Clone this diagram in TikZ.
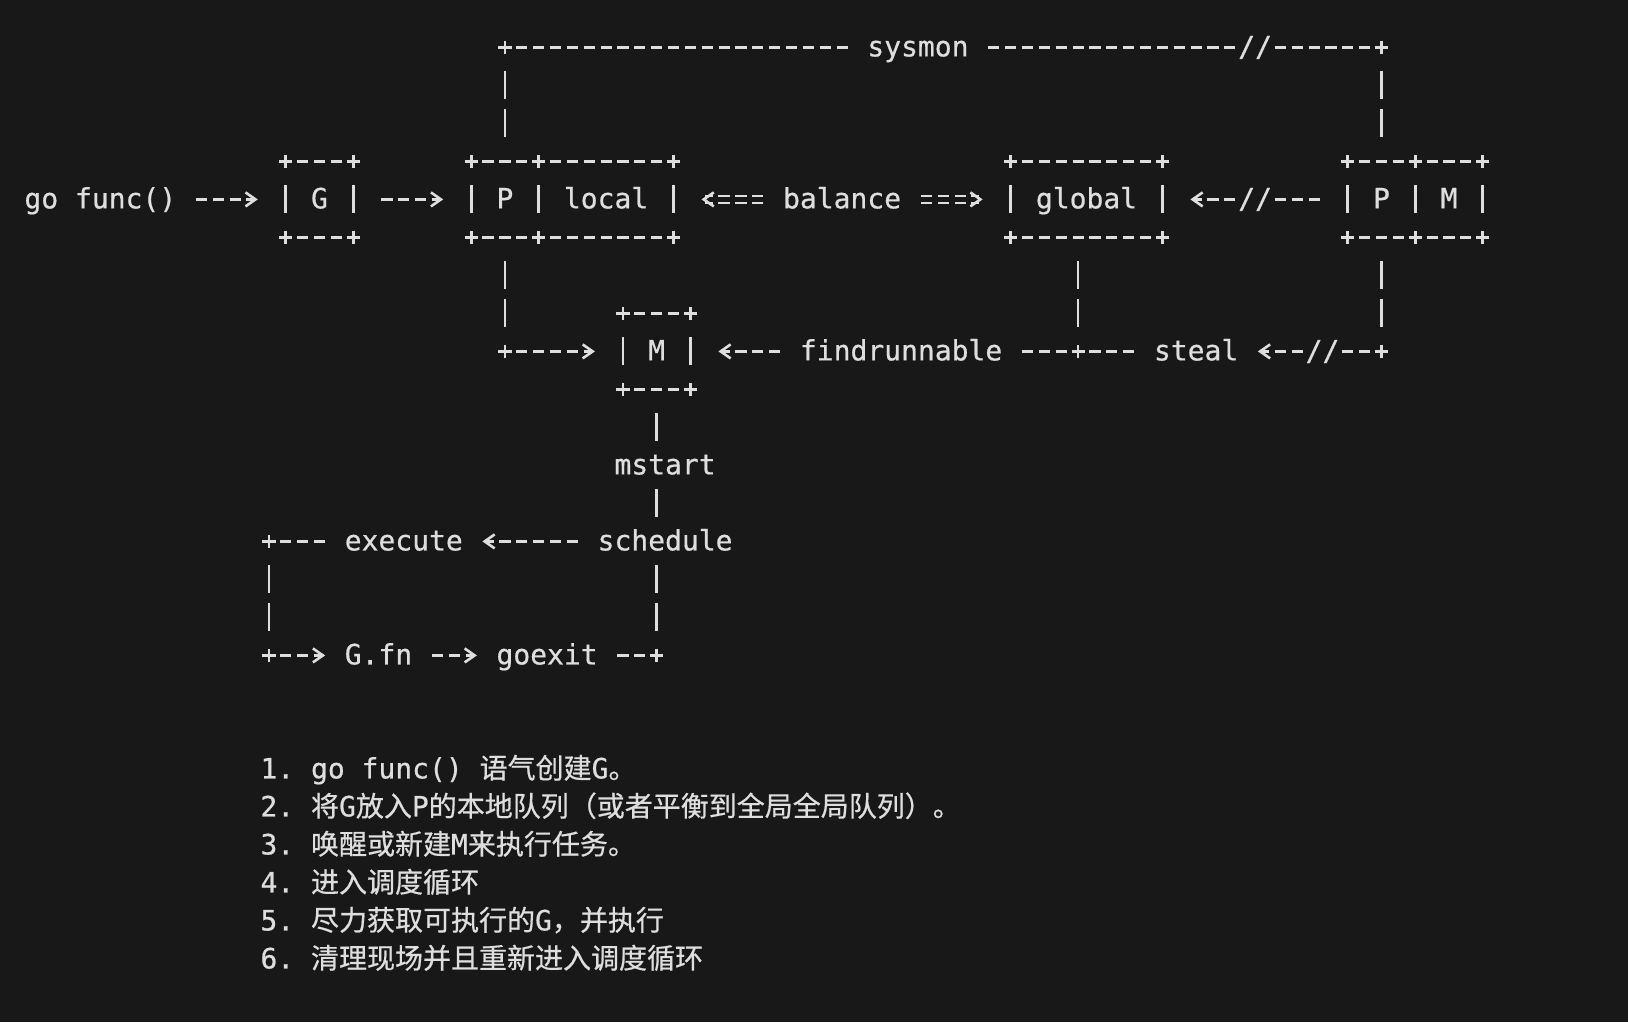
\documentclass[tikz,border=0pt]{standalone}
\usepackage{fontspec}
\usepackage{tikz}
\usetikzlibrary{arrows.meta,fit}

\newfontfamily\asciifont{DejaVu Sans Mono}[FakeBold=0.6]
\newfontfamily\cjkfont{Noto Sans CJK SC}[FakeBold=0.6]
\newcommand{\zh}[1]{{\cjkfont #1}}

\definecolor{termbg}{RGB}{24,24,24}
\definecolor{termfg}{RGB}{222,222,222}

\tikzset{
	txt/.style={font=\asciifont\fontsize{14pt}{19pt}\selectfont, text=termfg, inner sep=0pt, outer sep=0pt, text height=11pt, text depth=2pt, minimum height=19pt},
	joint/.style={inner sep=0pt, outer sep=0pt, minimum width=8.43pt, minimum height=19pt},
	boxframe/.style={inner sep=0pt, outer sep=0pt},
	ink/.style={draw=termfg, line width=1.35pt},
	hline/.style={ink, dash pattern=on 5.6pt off 2.83pt, dash phase=7.01pt},
	vline/.style={ink, dash pattern=on 14pt off 5pt, dash phase=16.5pt},
	dline/.style={hline, line width=1pt, double=termbg, double distance=2.4pt},
	chev/.style={-{Straight Barb[length=5pt, width=7pt, line width=1.3pt]}},
	plusmark/.pic={\draw[ink] (-3.3pt,0) -- (3.3pt,0) (0,-3.3pt) -- (0,3.3pt);}
}

\begin{document}
\begin{tikzpicture}[x=8.4287pt, y=-19pt]
	% Background
	\fill[termbg] (-1.9517,-1.2474) rectangle (94.62,25.647);
	\useasboundingbox (-1.9517,-1.2474) rectangle (94.62,25.647);
	
	% Labels
	\node[txt] (gofunc) at (4,4) {go~func()};
	\node[txt] (sysmon) at (52.5,0) {sysmon};
	\node[txt] (balance) at (48,4) {balance};
	\node[txt] (findrun) at (51.5,8) {findrunnable};
	\node[txt] (steal) at (69,8) {steal};
	\node[txt] (mstart) at (37.5,11) {mstart};
	\node[txt] (sched) at (37.5,13) {schedule};
	\node[txt] (exec) at (22,13) {execute};
	\node[txt] (gfn) at (20.5,16) {G.fn};
	\node[txt] (goexit) at (30.5,16) {goexit};
	\node[txt] (brk1) at (72.5,0) {//};
	\node[txt] (brk2) at (72.5,4) {//};
	\node[txt] (brk3) at (76.5,8) {//};
	
	% Box contents
	\node[txt] (g) at (17,4) {G};
	\node[txt] (p) at (28,4) {P};
	\node[txt] (local) at (34,4) {local};
	\node[txt] (global) at (62.5,4) {global};
	\node[txt] (p2) at (80,4) {P};
	\node[txt] (m2) at (84,4) {M};
	\node[txt] (m) at (37,8) {M};
	
	% Boxes
	\node[boxframe, fit={(15,3) (19,5)}] (gbox) {};
	\node[boxframe, fit={(26,3) (38,5)}] (pbox) {};
	\node[boxframe, fit={(58,3) (67,5)}] (globalbox) {};
	\node[boxframe, fit={(78,3) (86,5)}] (pmbox) {};
	\node[boxframe, fit={(35,7) (39,9)}] (mbox) {};
	\foreach \a/\b/\r in {15/19/4, 26/38/4, 58/67/4, 78/86/4, 35/39/8} {
		\draw[hline] (\a+0.5,\r-1) -- (\b-0.5,\r-1);
		\draw[hline] (\a+0.5,\r+1) -- (\b-0.5,\r+1);
	}
	\foreach \c/\r in {15/4, 19/4, 26/4, 30/4, 38/4, 58/4, 67/4, 78/4, 82/4, 86/4, 35/8, 39/8} {
		\pic at (\c,\r-1) {plusmark};
		\pic at (\c,\r+1) {plusmark};
		\draw[vline] (\c,\r-0.5) -- (\c,\r+0.5); % side bar
	}
	
	% Joints
	\node[joint] (stl) at (28,0) {};
	\node[joint] (str) at (80,0) {};
	\node[joint] (jp) at (28,8) {};
	\node[joint] (jg) at (62,8) {};
	\node[joint] (jm) at (80,8) {};
	\node[joint] (je) at (14,13) {};
	\node[joint] (jf) at (14,16) {};
	\node[joint] (jx) at (37,16) {};
	\foreach \j in {stl, str, jp, jg, jm, je, jf, jx}
		\pic at (\j) {plusmark};
	
	% Main row
	\draw[hline, chev, shorten <=8.43pt, shorten >=14pt] (gofunc) -- (gbox);
	\draw[hline, chev, shorten <=12.64pt, shorten >=14pt] (gbox) -- (pbox);
	\draw[dline, chev, shorten <=8.43pt, shorten >=14pt] (balance) -- (pbox);
	\draw[dline, chev, shorten <=8.43pt, shorten >=14pt] (balance) -- (globalbox);
	\draw[hline, shorten <=12.64pt] (pmbox) -- (brk2);
	\draw[hline, chev, shorten >=14pt] (brk2) -- (globalbox);
	
	% sysmon loop
	\draw[hline, shorten >=8.43pt] (stl) -- (sysmon);
	\draw[hline, shorten <=8.43pt] (sysmon) -- (brk1);
	\draw[hline] (brk1) -- (str);
	\draw[vline, shorten >=9.5pt] (stl) -- (stl |- pbox.north);
	\draw[vline, shorten >=9.5pt] (str) -- (str |- pmbox.north);
	
	% Feeding M
	\draw[vline, shorten <=9.5pt] (pbox.south -| jp) -- (jp);
	\draw[hline, chev, shorten >=14pt] (jp) -- (mbox);
	\draw[hline, chev, shorten <=8.43pt, shorten >=14pt] (findrun) -- (mbox);
	\draw[vline, shorten <=9.5pt] (globalbox.south -| jg) -- (jg);
	\draw[hline, shorten <=8.43pt] (findrun) -- (jg);
	\draw[hline, shorten >=8.43pt] (jg) -- (steal);
	\draw[vline, shorten <=9.5pt] (pmbox.south -| jm) -- (jm);
	\draw[hline] (jm) -- (brk3);
	\draw[hline, chev, shorten >=9.8pt] (brk3) -- (steal);
	
	% Schedule loop
	\draw[vline, shorten <=9.5pt] (mbox.south) -- (mbox.south |- mstart.north);
	\draw[vline] (mstart.south -| mbox) -- (sched.north -| mbox);
	\draw[hline, chev, shorten <=8.43pt, shorten >=9.8pt] (sched) -- (exec);
	\draw[hline, shorten <=8.43pt] (exec) -- (je);
	\draw[vline] (je) -- (jf);
	\draw[hline, chev, shorten >=9.8pt] (jf) -- (gfn);
	\draw[hline, chev, shorten <=8.43pt, shorten >=9.8pt] (gfn) -- (goexit);
	\draw[hline, shorten <=8.43pt] (goexit) -- (jx);
	\draw[vline] (jx) -- (sched.south -| jx);
	
	% Notes
	\node[txt, anchor=west] (note1) at (13.5,19) {1.~go~func()~\zh{语气创建}G\zh{。}};
	\node[txt, anchor=west] (note2) at (13.5,20) {2.~\zh{将}G\zh{放入}P\zh{的本地队列（或者平衡到全局全局队列）。}};
	\node[txt, anchor=west] (note3) at (13.5,21) {3.~\zh{唤醒或新建}M\zh{来执行任务。}};
	\node[txt, anchor=west] (note4) at (13.5,22) {4.~\zh{进入调度循环}};
	\node[txt, anchor=west] (note5) at (13.5,23) {5.~\zh{尽力获取可执行的}G\zh{，并执行}};
	\node[txt, anchor=west] (note6) at (13.5,24) {6.~\zh{清理现场并且重新进入调度循环}};
\end{tikzpicture}
\end{document}
